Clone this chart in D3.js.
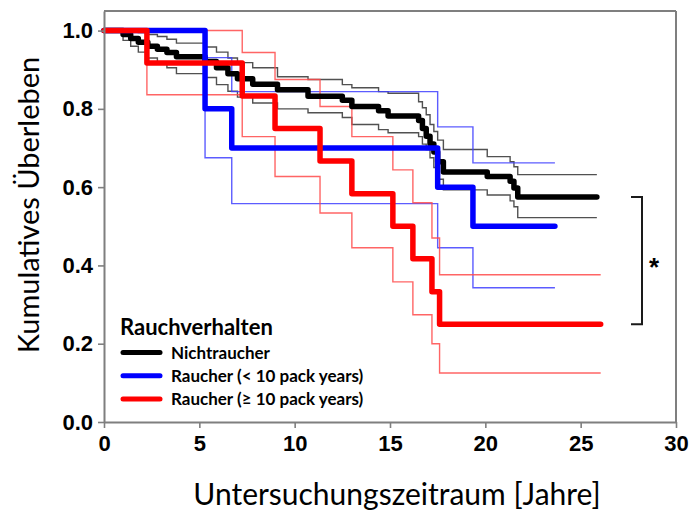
<!DOCTYPE html>
<html>
<head>
<meta charset="utf-8">
<script src="https://cdn.jsdelivr.net/npm/d3@7"></script>
<style>
  html, body { margin: 0; padding: 0; background: #fff; }
  svg { display: block; }
</style>
</head>
<body>
<svg id="chart" width="693" height="513"></svg>
<script>
// Kaplan-Meier survival by smoking behaviour, with confidence bands

// Nichtraucher
const nonTimes = [0, 1.0, 1.4, 1.8, 2.3, 2.8, 3.3, 3.8, 5.3, 5.9, 6.5, 7.0, 7.8, 9.1, 10.7, 12.5, 13.0, 14.4, 14.9, 16.5, 16.7, 16.9, 17.1, 17.3, 17.5, 17.8, 20.1, 21.3, 21.5, 21.7];
const nonSurv  = [1.0, 0.99, 0.98, 0.97, 0.96, 0.952, 0.944, 0.933, 0.921, 0.905, 0.89, 0.877, 0.863, 0.849, 0.832, 0.822, 0.806, 0.795, 0.782, 0.77, 0.75, 0.73, 0.71, 0.69, 0.665, 0.639, 0.627, 0.615, 0.598, 0.575];
const nonUpper = [1.0, 1.0, 1.0, 0.995, 0.99, 0.985, 0.978, 0.968, 0.958, 0.945, 0.93, 0.918, 0.905, 0.882, 0.875, 0.862, 0.854, 0.844, 0.84, 0.818, 0.803, 0.785, 0.76, 0.742, 0.72, 0.696, 0.678, 0.665, 0.652, 0.632];
const nonLower = [1.0, 0.975, 0.96, 0.945, 0.93, 0.918, 0.905, 0.89, 0.88, 0.862, 0.845, 0.83, 0.815, 0.80, 0.79, 0.778, 0.76, 0.747, 0.739, 0.729, 0.71, 0.696, 0.675, 0.65, 0.62, 0.593, 0.58, 0.565, 0.55, 0.522];
const nonEnd = 25.85;

// Raucher (< 10 pack years)
const lightTimes = [0, 5.3, 6.7, 17.5, 19.35];
const lightSurv  = [1.0, 0.8, 0.7, 0.6, 0.5];
const lightUpper = [1.0, 0.931, 0.844, 0.754, 0.662];
const lightLower = [1.0, 0.675, 0.558, 0.445, 0.343];
const lightEnd = 23.65;

// Raucher (>= 10 pack years)
const heavyTimes = [0, 2.25, 7.25, 8.97, 11.33, 13.0, 15.15, 16.2, 17.2, 17.6];
const heavySurv  = [1.0, 0.917, 0.833, 0.75, 0.667, 0.583, 0.5, 0.417, 0.333, 0.25];
const heavyUpper = [1.0, 1.0, 0.944, 0.875, 0.806, 0.729, 0.644, 0.56, 0.47, 0.376];
const heavyLower = [1.0, 0.836, 0.729, 0.627, 0.534, 0.445, 0.358, 0.274, 0.2, 0.125];
const heavyEnd = 26.05;

const xTicks = [0, 5, 10, 15, 20, 25, 30];
const yTicks = [0.0, 0.2, 0.4, 0.6, 0.8, 1.0];

const legendTitle = "Rauchverhalten";
const groupNames = ["Nichtraucher", "Raucher (< 10 pack years)", "Raucher (\u2265 10 pack years)"];
const groupColors = ["#000000", "#0000ff", "#ff0000"];
const thinColors = ["#333333", "#4040ff", "#ff4a4a"];

const groups = [
  { times: nonTimes, surv: nonSurv, upper: nonUpper, lower: nonLower, end: nonEnd },
  { times: lightTimes, surv: lightSurv, upper: lightUpper, lower: lightLower, end: lightEnd },
  { times: heavyTimes, surv: heavySurv, upper: heavyUpper, lower: heavyLower, end: heavyEnd }
];

const svg = d3.select("#chart");
const x = d3.scaleLinear().domain([0, 30]).range([104, 676]);
const y = d3.scaleLinear().domain([0, 1.05]).range([422, 11]);

const axisColor = "#7f7f7f";
const labelFont = "Lato, 'Open Sans', sans-serif";

// plot frame (top and right edges)
svg.append("line")
  .attr("x1", x(0)).attr("x2", x(30)).attr("y1", y(1.05)).attr("y2", y(1.05))
  .attr("stroke", axisColor).attr("stroke-width", 2);
svg.append("line")
  .attr("x1", x(30)).attr("x2", x(30)).attr("y1", y(1.05)).attr("y2", y(0))
  .attr("stroke", axisColor).attr("stroke-width", 2);

// step curve helper
const stepLine = d3.line()
  .x(d => x(d[0]))
  .y(d => y(d[1]))
  .curve(d3.curveStepAfter);

function pts(times, vals, end) {
  const p = times.map((t, i) => [t, vals[i]]);
  p.push([end, vals[vals.length - 1]]);
  return p;
}

const plot = svg.append("g");

// confidence limits (thin)
groups.forEach((g, i) => {
  [g.upper, g.lower].forEach(v => {
    plot.append("path")
      .attr("d", stepLine(pts(g.times, v, g.end)))
      .attr("fill", "none")
      .attr("stroke", thinColors[i])
      .attr("stroke-opacity", 0.85)
      .attr("stroke-width", 1.4);
  });
});

// survival estimates (thick)
groups.forEach((g, i) => {
  plot.append("path")
    .attr("d", stepLine(pts(g.times, g.surv, g.end)))
    .attr("fill", "none")
    .attr("stroke", groupColors[i])
    .attr("stroke-width", 5.5)
    .attr("stroke-linejoin", "round")
    .attr("stroke-linecap", "round");
});

// axes
const yAxis = d3.axisLeft(y).tickValues(yTicks).tickFormat(d3.format(".1f")).tickSizeInner(6).tickSizeOuter(0).tickPadding(5);
const xAxis = d3.axisBottom(x).tickValues(xTicks).tickFormat(d3.format("d")).tickSizeInner(6).tickSizeOuter(0).tickPadding(7);

const gy = svg.append("g").attr("transform", `translate(${x(0)},0)`).call(yAxis);
const gx = svg.append("g").attr("transform", `translate(0,${y(0)})`).call(xAxis);

[gx, gy].forEach(g => {
  g.select(".domain").attr("stroke", axisColor).attr("stroke-width", 2);
  g.selectAll(".tick line").attr("stroke", axisColor).attr("stroke-width", 1.6);
  g.selectAll(".tick text")
    .attr("fill", "#000")
    .style("font-family", "'Liberation Sans', Arial, sans-serif")
    .style("font-weight", "bold")
    .style("font-size", "22px");
});

// axis titles
svg.append("text")
  .attr("x", 397).attr("y", 505)
  .attr("text-anchor", "middle")
  .style("font-family", labelFont)
  .style("font-size", "30px")
  .text("Untersuchungszeitraum [Jahre]");

svg.append("text")
  .attr("transform", "translate(39,205) rotate(-90)")
  .attr("text-anchor", "middle")
  .style("font-family", labelFont)
  .style("font-size", "29px")
  .text("Kumulatives \u00dcberleben");

// legend
const leg = svg.append("g");
leg.append("text")
  .attr("x", 120).attr("y", 335)
  .style("font-family", labelFont)
  .style("font-weight", "bold")
  .style("font-size", "22px")
  .text(legendTitle);

groupNames.forEach((name, i) => {
  const cy = 352.5 + i * 23.3;
  leg.append("line")
    .attr("x1", 123).attr("x2", 160).attr("y1", cy).attr("y2", cy)
    .attr("stroke", groupColors[i]).attr("stroke-width", 5).attr("stroke-linecap", "round");
  leg.append("text")
    .attr("x", 171).attr("y", cy + 6)
    .style("font-family", labelFont)
    .style("font-weight", "bold")
    .style("font-size", "17px")
    .text(name);
});

// significance bracket between the end levels of Nichtraucher and Raucher (>= 10)
const bTop = y(nonSurv[nonSurv.length - 1]);
const bBot = y(heavySurv[heavySurv.length - 1]);
svg.append("path")
  .attr("d", `M631,${bTop}H642V${bBot}H631`)
  .attr("fill", "none").attr("stroke", "#1a1a1a").attr("stroke-width", 2);
svg.append("text")
  .attr("x", 654).attr("y", (bTop + bBot) / 2 + 15)
  .attr("text-anchor", "middle")
  .style("font-family", "'Liberation Sans', Arial, sans-serif")
  .style("font-weight", "bold")
  .style("font-size", "26px")
  .text("*");
</script>
</body>
</html>
